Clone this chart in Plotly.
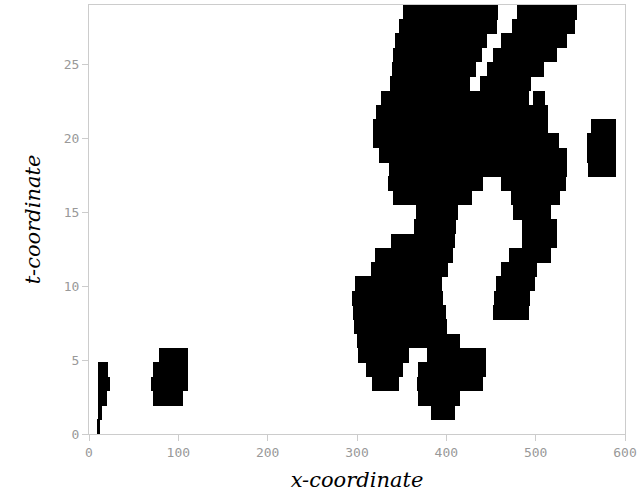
import plotly.graph_objects as go

# grid: 30 rows spanning t = 0..29
n_rows = 30
t_max = 29.0

# black segments: row index (0 = bottom), x start, x end
seg_row = [
    29, 29,
    28, 28,
    27, 27,
    26, 26,
    25, 25,
    24, 24,
    23, 23,
    22,
    21, 21,
    20, 20,
    19, 19,
    18, 18,
    17, 17,
    16, 16,
    15, 15,
    14, 14,
    13, 13,
    12, 12,
    11, 11,
    10, 10,
    9, 9,
    8, 8,
    7,
    6,
    5, 5, 5,
    4, 4, 4, 4,
    3, 3, 3, 3,
    2, 2, 2,
    1, 1,
    0,
]
seg_start = [
    351.8, 478.8,
    347.4, 473.2,
    342.5, 460.9,
    340.0, 451.9,
    338.9, 445.2,
    337.0, 437.7,
    326.5, 496.5,
    321.3,
    318.3, 561.6,
    318.3, 557.1,
    325.0, 557.1,
    336.2, 558.9,
    335.0, 460.9,
    340.6, 472.1,
    366.1, 474.6,
    363.8, 484.7,
    337.7, 484.7,
    320.2, 470.5,
    315.7, 460.9,
    297.8, 455.1,
    294.1, 453.4,
    295.2, 452.6,
    296.7,
    299.7,
    78.7, 301.5, 378.0,
    9.7, 71.3, 310.1, 368.6,
    9.7, 69.1, 316.5, 367.5,
    9.7, 71.3, 368.6,
    10.0, 382.5,
    10.0,
]
seg_end = [
    458.2, 545.9,
    456.4, 544.0,
    445.2, 534.8,
    439.6, 523.6,
    433.2, 509.3,
    426.5, 494.5,
    492.6, 509.9,
    514.2,
    514.2, 589.9,
    525.6, 589.9,
    535.4, 589.9,
    535.4, 589.9,
    441.4, 533.4,
    428.4, 526.7,
    413.4, 517.7,
    410.8, 523.6,
    409.7, 523.6,
    407.8, 517.7,
    402.2, 501.2,
    395.7, 498.9,
    396.6, 493.7,
    399.6, 492.9,
    400.4,
    415.3,
    111.2, 358.6, 444.4,
    20.9, 111.2, 351.2, 444.4,
    23.5, 111.2, 347.4, 440.7,
    20.5, 104.9, 415.3,
    14.2, 409.7,
    12.0,
]

x_ticks = [0, 100, 200, 300, 400, 500, 600]
t_ticks = [0, 5, 10, 15, 20, 25]

row_h = t_max / n_rows
centers = [(r + 0.5) * row_h for r in seg_row]
lengths = [e - s for s, e in zip(seg_start, seg_end)]

fig = go.Figure(
    go.Bar(
        orientation="h",
        y=centers,
        x=lengths,
        base=seg_start,
        width=row_h + 0.03,
        marker=dict(color="black", line=dict(width=0)),
        hoverinfo="skip",
    )
)

axis_common = dict(
    showgrid=False,
    zeroline=False,
    showline=True,
    linecolor="#cccccc",
    linewidth=1,
    mirror=True,
    ticks="outside",
    ticklen=6,
    tickcolor="#cccccc",
    tickfont=dict(family="DejaVu Sans Mono", size=13, color="#999999"),
)

title_font = dict(family="DejaVu Serif", size=21, color="black", style="italic")

fig.update_layout(
    width=644,
    height=495,
    margin=dict(l=89, r=19, t=5, b=61),
    plot_bgcolor="white",
    paper_bgcolor="white",
    showlegend=False,
    bargap=0,
    xaxis=dict(
        range=[0, 600],
        tickvals=x_ticks,
        title=dict(text="x-coordinate", font=title_font, standoff=13),
        **axis_common,
    ),
    yaxis=dict(
        range=[0, t_max],
        tickvals=t_ticks,
        title=dict(text="t-coordinate", font=title_font, standoff=17),
        **axis_common,
    ),
)

fig.write_html("out.html")
